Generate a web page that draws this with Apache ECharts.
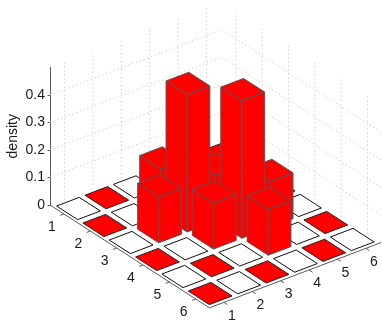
<!DOCTYPE html>
<html>
<head>
<meta charset="utf-8">
<style>html,body{margin:0;padding:0;background:#fff}#c{width:382px;height:326px}</style>
<script src="https://cdn.jsdelivr.net/npm/echarts@6/dist/echarts.min.js"></script>
</head>
<body>
<div id="c"></div>
<script>
// Chart data: null = empty white cell, 0 = red flat cell.
var rowTicks = [1, 2, 3, 4, 5, 6];
var colTicks = [1, 2, 3, 4, 5, 6];
var zTicks = [0, 0.1, 0.2, 0.3, 0.4];
var row1 = [null, 0, null, 0, null, 0];
var row2 = [0, null, 0.167, null, 0, null];
var row3 = [null, 0.167, 0.5, 0.167, null, 0];
var row4 = [0, null, 0.167, 0.5, 0.167, null];
var row5 = [null, 0, null, 0.167, null, 0];
var row6 = [0, null, 0, null, 0, null];
var density = [row1, row2, row3, row4, row5, row6];

// View (axonometric projection) settings
var xLim = [0.47, 6.52], yLim = [0.49, 6.54], zMax = 0.5;
var Ex = [26.35, 17], Ey = [28.4, -10.8], pxPerZ = 275;
var barW = 0.8;

var chart = echarts.init(document.getElementById('c'), null, {renderer: 'canvas'});

function pt(api, i, j, z) {
  var dx = i - xLim[0], dy = j - yLim[0];
  return api.coord([dx * Ex[0] + dy * Ey[0], z - (dx * Ex[1] + dy * Ey[1]) / pxPerZ]);
}
function line(p, q, style) {
  return {type: 'line', shape: {x1: p[0], y1: p[1], x2: q[0], y2: q[1]}, style: style};
}
function poly(pts, fill, stroke, w) {
  return {type: 'polygon', shape: {points: pts}, style: {fill: fill, stroke: stroke, lineWidth: w, lineJoin: 'round'}};
}

var cells = [];
density.forEach(function (r, a) {
  r.forEach(function (v, b) { cells.push([rowTicks[a], colTicks[b], v]); });
});
cells.sort(function (p, q) { return (p[0] - p[1]) - (q[0] - q[1]); });

var gridStyle = {stroke: '#c0c0c0', lineWidth: 1, lineDash: [1, 3], fill: null};
var axisStyle = {stroke: '#5a5a5a', lineWidth: 1, fill: null};

function renderWalls(params, api) {
  if (params.dataIndex !== 0) return {type: 'group', children: []};
  var c = [];
  zTicks.slice(1).forEach(function (z) {
    c.push(line(pt(api, xLim[0], yLim[0], z), pt(api, xLim[0], yLim[1], z), gridStyle));
    c.push(line(pt(api, xLim[0], yLim[1], z), pt(api, xLim[1], yLim[1], z), gridStyle));
  });
  colTicks.forEach(function (j) {
    c.push(line(pt(api, xLim[0], j, 0), pt(api, xLim[0], j, zMax), gridStyle));
  });
  rowTicks.forEach(function (i) {
    c.push(line(pt(api, i, yLim[1], 0), pt(api, i, yLim[1], zMax), gridStyle));
  });
  return {type: 'group', children: c};
}

function renderAxes(params, api) {
  if (params.dataIndex !== 0) return {type: 'group', children: []};
  var c = [];
  c.push(line(pt(api, xLim[0], yLim[0], 0), pt(api, xLim[1], yLim[0], 0), axisStyle));
  c.push(line(pt(api, xLim[1], yLim[0], 0), pt(api, xLim[1], yLim[1], 0), axisStyle));
  var font = '14px "Liberation Sans", Arial, sans-serif';
  rowTicks.forEach(function (i) {
    var p = pt(api, i, yLim[0], 0), q = pt(api, i, yLim[0] - 0.13, 0);
    c.push(line(p, q, axisStyle));
    c.push({type: 'text', style: {text: String(i), x: p[0] - 12, y: p[1] + 13.5, fill: '#1a1a1a', font: font, align: 'center', verticalAlign: 'middle'}});
  });
  colTicks.forEach(function (j) {
    var p = pt(api, xLim[1], j, 0), q = pt(api, xLim[1] + 0.13, j, 0);
    c.push(line(p, q, axisStyle));
    c.push({type: 'text', style: {text: String(j), x: p[0] + 8, y: p[1] + 13.5, fill: '#1a1a1a', font: font, align: 'center', verticalAlign: 'middle'}});
  });
  return {type: 'group', children: c};
}

function renderCell(params, api) {
  var i = api.value(0), j = api.value(1), raw = cells[params.dataIndex][2];
  var h = barW / 2;
  var base = [pt(api, i - h, j - h, 0), pt(api, i + h, j - h, 0), pt(api, i + h, j + h, 0), pt(api, i - h, j + h, 0)];
  if (raw === null) return poly(base, '#ffffff', '#111111', 1);
  if (raw === 0) return poly(base, '#ff0000', '#222222', 1);
  var top = [pt(api, i - h, j - h, raw), pt(api, i + h, j - h, raw), pt(api, i + h, j + h, raw), pt(api, i - h, j + h, raw)];
  var edge = '#555555';
  return {type: 'group', children: [
    poly([base[0], base[1], top[1], top[0]], '#ff0000', edge, 1),
    poly([base[1], base[2], top[2], top[1]], '#ff0000', edge, 1),
    poly(top, '#ff0000', edge, 1)
  ]};
}

chart.setOption({
  animation: false,
  backgroundColor: '#ffffff',
  grid: {left: 50, right: 0, top: 67.5, height: 137.5, containLabel: false, outerBoundsMode: 'none'},
  xAxis: {type: 'value', min: 0, max: 332, show: false},
  yAxis: {
    type: 'value', min: 0, max: zMax,
    name: 'density', nameLocation: 'middle', nameRotate: 90, nameGap: 30, nameMoveOverlap: false,
    nameTextStyle: {color: '#1a1a1a', fontSize: 14, fontFamily: '"Liberation Sans", Arial, sans-serif'},
    axisLine: {show: true, lineStyle: {color: '#5a5a5a', width: 1}},
    axisTick: {show: true, length: 2.5, customValues: zTicks, lineStyle: {color: '#5a5a5a', width: 1}},
    axisLabel: {
      show: true, margin: 5, customValues: zTicks, color: '#1a1a1a', fontSize: 14,
      fontFamily: '"Liberation Sans", Arial, sans-serif',
      formatter: function (v) { return String(v); }
    },
    splitLine: {show: false}
  },
  series: [
    {type: 'custom', silent: true, z: 1, clip: false, data: [[0, 0]], renderItem: renderWalls},
    {type: 'custom', silent: true, z: 2, clip: false, data: cells.map(function (d) { return [d[0], d[1]]; }),
      encode: {x: [], y: []}, renderItem: renderCell},
    {type: 'custom', silent: true, z: 3, clip: false, data: [[0, 0]], renderItem: renderAxes}
  ]
});
</script>
</body>
</html>
